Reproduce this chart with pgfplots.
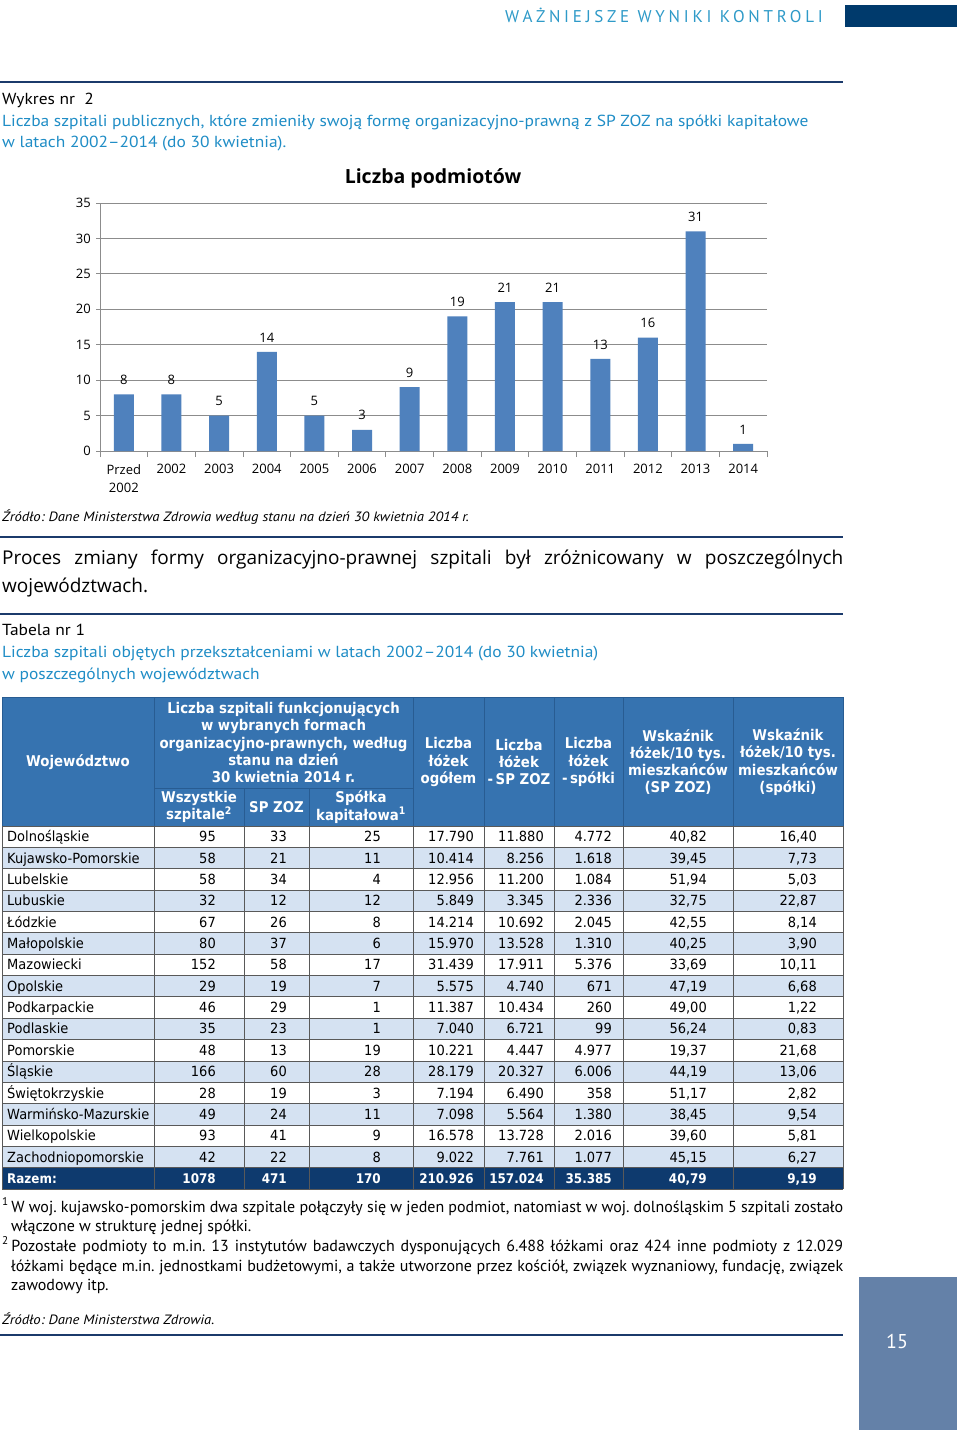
\documentclass[border=0pt]{standalone}
\usepackage{fontspec}
\usepackage{pgfplots}
\pgfplotsset{compat=1.18}
\setmainfont{PT Sans}
\newfontfamily\wide[FakeStretch=1.09]{PT Sans}
\newfontfamily\osans{Open Sans}
\newfontfamily\tabf[FakeStretch=0.93]{DejaVu Sans}
\newfontfamily\tabh[FakeStretch=0.9]{DejaVu Sans}
\newfontfamily\hdrf[LetterSpace=22]{PT Sans}
\frenchspacing
\definecolor{hdrblue}{HTML}{2E9AC8}
\definecolor{ttlblue}{HTML}{1F8DC6}
\definecolor{navyrule}{HTML}{1B3A6B}
\definecolor{barblue}{HTML}{4F81BD}
\definecolor{thead}{HTML}{3673B0}
\definecolor{theadline}{HTML}{285C92}
\definecolor{tlight}{HTML}{D5E2F2}
\definecolor{tnavy}{HTML}{0E3A6E}
\definecolor{pagebox}{HTML}{6481A8}
\definecolor{darkbox}{HTML}{003A6C}
\definecolor{gridgray}{HTML}{8C8C8C}
\newcounter{rowc}
\newcommand\trow[9]{%
  \stepcounter{rowc}%
  \pgfmathsetmacro\rtop{826+(\arabic{rowc}-1)*21.35}%
  \pgfmathsetmacro\rbase{\rtop+15.8}%
  \ifodd\value{rowc}\else\fill[tlight] (2,\rtop) rectangle (843,\rtop+21.35);\fi
  \node[anchor=base west] at (7,\rbase) {#1};
  \node[anchor=base east] at (216,\rbase) {#2};
  \node[anchor=base east] at (287,\rbase) {#3};
  \node[anchor=base east] at (381,\rbase) {#4};
  \node[anchor=base east] at (474,\rbase) {#5};
  \node[anchor=base east] at (544,\rbase) {#6};
  \node[anchor=base east] at (612,\rbase) {#7};
  \node[anchor=base east] at (707,\rbase) {#8};
  \node[anchor=base east] at (817,\rbase) {#9};
}
\begin{document}
\begin{tikzpicture}[x=1pt,y=-1pt,inner sep=0pt]
\fill[white] (0,0) rectangle (960,1433);
\useasboundingbox (0,0) rectangle (960,1433);
% page header
\node[anchor=base east,text=hdrblue,font=\hdrf\fontsize{17}{17}\selectfont] at (823,22) {WAŻNIEJSZE WYNIKI KONTROLI};
\fill[darkbox] (845,5) rectangle (957,27);
\draw[navyrule,line width=2pt] (0,82) -- (843,82);
\node[anchor=base west,font=\wide\fontsize{16}{16}\selectfont] at (2,104) {Wykres nr\ \ 2};
\node[anchor=base west,text=ttlblue,font=\wide\fontsize{16}{16}\selectfont] at (2,126) {Liczba szpitali publicznych, które zmieniły swoją formę organizacyjno-prawną z SP ZOZ na spółki kapitałowe};
\node[anchor=base west,text=ttlblue,font=\wide\fontsize{16}{16}\selectfont] at (2,147) {w latach 2002–2014 (do 30 kwietnia).};
% chart
\node[font=\osans\bfseries\fontsize{19.5}{19.5}\selectfont] at (433,178) {Liczba podmiotów};
\begin{scope}[x=1cm,y=1cm]
\begin{axis}[at={(100pt,-451pt)},anchor=south west,scale only axis,
  width=667pt,height=248pt,
  xmin=-0.5,xmax=13.5,ymin=0,ymax=35,
  axis lines*=left, axis line style={-,draw=gridgray,line width=0.8pt},
  ytick={0,5,...,35}, ymajorgrids, major grid style={draw=gridgray,line width=0.8pt},
  xtick={0,...,13},
  xticklabels={{Przed\\2002},2002,2003,2004,2005,2006,2007,2008,2009,2010,2011,2012,2013,2014},
  minor xtick={-0.5,0.5,...,13.5},
  tick align=outside, major tick length=4pt, minor tick length=6pt,
  major x tick style={draw=none},
  tick style={draw=gridgray,line width=0.8pt},
  /pgf/number format/assume math mode=true,
  tick label style={font=\osans\fontsize{13}{18.5}\selectfont},
  x tick label style={align=center,anchor=north,yshift=-9pt},
  y tick label style={xshift=-5pt},
  clip=false,
]
\addplot[ybar,bar width=20pt,fill=barblue,draw=none,
  nodes near coords,
  every node near coord/.append style={font=\osans\fontsize{13}{13}\selectfont,yshift=9.5pt}]
  coordinates {(0,8)(1,8)(2,5)(3,14)(4,5)(5,3)(6,9)(7,19)(8,21)(9,21)(10,13)(11,16)(12,31)(13,1)};
\end{axis}
\end{scope}
\node[anchor=base west,font=\wide\itshape\fontsize{13.5}{13.5}\selectfont] at (2,521) {Źródło: Dane Ministerstwa Zdrowia według stanu na dzień 30 kwietnia 2014 r.};
\draw[navyrule,line width=2pt] (0,537) -- (843,537);
\node[anchor=base west,font=\osans\fontsize{19}{19}\selectfont] at (2,564) {\hbox to 841pt{Proces zmiany formy organizacyjno-prawnej szpitali był zróżnicowany w poszczególnych}};
\node[anchor=base west,font=\osans\fontsize{19}{19}\selectfont] at (2,592) {województwach.};
\draw[navyrule,line width=2pt] (0,614) -- (843,614);
\node[anchor=base west,font=\wide\fontsize{16}{16}\selectfont] at (2,635) {Tabela nr 1};
\node[anchor=base west,text=ttlblue,font=\wide\fontsize{16}{16}\selectfont] at (2,657) {Liczba szpitali objętych przekształceniami w latach 2002–2014 (do 30 kwietnia)};
\node[anchor=base west,text=ttlblue,font=\wide\fontsize{16}{16}\selectfont] at (2,679) {w poszczególnych województwach};
% table header
\fill[thead] (2,697) rectangle (843,826);
\begin{scope}[text=white,font=\tabh\bfseries\fontsize{14.8}{17.3}\selectfont]
\node at (78,762) {Województwo};
\node[align=center] at (283.5,742.5) {Liczba szpitali funkcjonujących\\w wybranych formach\\organizacyjno-prawnych, według\\stanu na dzień\\30 kwietnia 2014 r.};
\node[align=center] at (199,807) {Wszystkie\\szpitale\textsuperscript{2}};
\node[align=center] at (276.5,807) {SP ZOZ};
\node[align=center] at (361,807) {Spółka\\kapitałowa\textsuperscript{1}};
\node[align=center] at (448.5,762) {Liczba\\łóżek\\ogółem};
\node[align=center] at (519,762) {Liczba\\łóżek\\{-}\,SP ZOZ};
\node[align=center] at (588.5,762) {Liczba\\łóżek\\{-}\,spółki};
\node[align=center] at (678,762) {Wskaźnik\\łóżek/10 tys.\\mieszkańców\\(SP ZOZ)};
\node[align=center] at (788,762) {Wskaźnik\\łóżek/10 tys.\\mieszkańców\\(spółki)};
\end{scope}
\begin{scope}[draw=theadline,line width=0.8pt]
\foreach \xx in {154,413,484,554,623,733} \draw (\xx,697) -- (\xx,826);
\draw (244,788) -- (244,826);
\draw (309,788) -- (309,826);
\draw (154,788) -- (413,788);
\draw (2,697) rectangle (843,826);
\end{scope}
% table body
\begin{scope}[font=\tabf\fontsize{14}{14}\selectfont]
\trow{Dolnośląskie}{95}{33}{25}{17.790}{11.880}{4.772}{40,82}{16,40}
\trow{Kujawsko-Pomorskie}{58}{21}{11}{10.414}{8.256}{1.618}{39,45}{7,73}
\trow{Lubelskie}{58}{34}{4}{12.956}{11.200}{1.084}{51,94}{5,03}
\trow{Lubuskie}{32}{12}{12}{5.849}{3.345}{2.336}{32,75}{22,87}
\trow{Łódzkie}{67}{26}{8}{14.214}{10.692}{2.045}{42,55}{8,14}
\trow{Małopolskie}{80}{37}{6}{15.970}{13.528}{1.310}{40,25}{3,90}
\trow{Mazowiecki}{152}{58}{17}{31.439}{17.911}{5.376}{33,69}{10,11}
\trow{Opolskie}{29}{19}{7}{5.575}{4.740}{671}{47,19}{6,68}
\trow{Podkarpackie}{46}{29}{1}{11.387}{10.434}{260}{49,00}{1,22}
\trow{Podlaskie}{35}{23}{1}{7.040}{6.721}{99}{56,24}{0,83}
\trow{Pomorskie}{48}{13}{19}{10.221}{4.447}{4.977}{19,37}{21,68}
\trow{Śląskie}{166}{60}{28}{28.179}{20.327}{6.006}{44,19}{13,06}
\trow{Świętokrzyskie}{28}{19}{3}{7.194}{6.490}{358}{51,17}{2,82}
\trow{Warmińsko-Mazurskie}{49}{24}{11}{7.098}{5.564}{1.380}{38,45}{9,54}
\trow{Wielkopolskie}{93}{41}{9}{16.578}{13.728}{2.016}{39,60}{5,81}
\trow{Zachodniopomorskie}{42}{22}{8}{9.022}{7.761}{1.077}{45,15}{6,27}
\end{scope}
\fill[tnavy] (2,1167.6) rectangle (843,1189);
\begin{scope}[text=white,font=\tabh\bfseries\fontsize{13.3}{13.3}\selectfont]
\trow{Razem:}{1078}{471}{170}{210.926}{157.024}{35.385}{40,79}{9,19}
\end{scope}
\begin{scope}[draw=black!65,line width=0.7pt]
\foreach \xx in {2,154,244,309,413,484,554,623,733,843} \draw (\xx,826) -- (\xx,1189);
\foreach \k in {0,...,17} \draw (2,826+\k*21.35) -- (843,826+\k*21.35);
\end{scope}
% footnotes
\begin{scope}[font=\fontsize{16}{16}\selectfont]
\node[anchor=base west] at (2,1212) {\hbox to 841pt{\textsuperscript{1}\,W woj. kujawsko-pomorskim dwa szpitale połączyły się w jeden podmiot, natomiast w woj. dolnośląskim 5 szpitali zostało}};
\node[anchor=base west] at (11,1231) {włączone w strukturę jednej spółki.};
\node[anchor=base west] at (2,1251) {\hbox to 841pt{\textsuperscript{2}\,Pozostałe podmioty to m.in. 13 instytutów badawczych dysponujących 6.488 łóżkami oraz 424 inne podmioty z 12.029}};
\node[anchor=base west] at (11,1271) {\hbox to 832pt{łóżkami będące m.in. jednostkami budżetowymi, a także utworzone przez kościół, związek wyznaniowy, fundację, związek}};
\node[anchor=base west] at (11,1290) {zawodowy itp.};
\end{scope}
\node[anchor=base west,font=\wide\itshape\fontsize{13.5}{13.5}\selectfont] at (2,1324) {Źródło: Dane Ministerstwa Zdrowia.};
\draw[navyrule,line width=2pt] (0,1335) -- (843,1335);
\fill[pagebox] (859,1277) rectangle (957,1430);
\node[text=white,font=\fontsize{20}{20}\selectfont] at (897,1341) {15};
\end{tikzpicture}
\end{document}
